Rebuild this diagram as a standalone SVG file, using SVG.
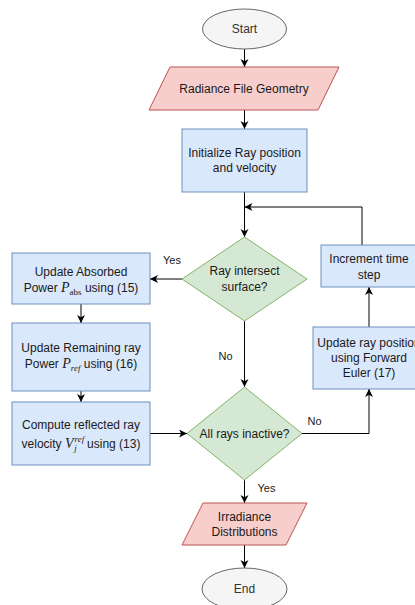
<svg xmlns="http://www.w3.org/2000/svg" width="415" height="605" viewBox="0 0 415 605">
<defs>
<marker id="arr" markerUnits="userSpaceOnUse" markerWidth="10" markerHeight="10" refX="8" refY="4" orient="auto">
<path d="M0,0 L8,4 L0,8 L2.2,4 z" fill="#000"/>
</marker>
<style>
.t{font-family:"Liberation Sans",Arial,sans-serif;font-size:12px;fill:#1a1a1a;text-anchor:middle}
.g{fill:#333333}
.lbl{font-family:"Liberation Sans",Arial,sans-serif;font-size:11px;fill:#1a1a1a;text-anchor:middle}
.m{font-family:"Liberation Serif","Times New Roman",serif;font-style:italic}
.r{font-family:"Liberation Serif","Times New Roman",serif;font-style:normal}
.blue{fill:#dae8fc;stroke:#6c8ebf;stroke-width:1}
.green{fill:#d5e8d4;stroke:#82b366;stroke-width:1}
.red{fill:#f8cecc;stroke:#b85450;stroke-width:1}
.grey{fill:#f5f5f5;stroke:#666666;stroke-width:1}
.c{fill:none;stroke:#000;stroke-width:1;marker-end:url(#arr)}
.cn{fill:none;stroke:#000;stroke-width:1}
</style>
</defs>
<g id="connectors">
<path class="c" d="M244.5,49 V67"/>
<path class="c" d="M244.5,110 V129"/>
<path class="c" d="M244.5,192 V237"/>
<path class="c" d="M244.5,321 V387"/>
<path class="c" d="M244.5,480 V503"/>
<path class="c" d="M244.5,545 V568"/>
<path class="c" d="M182,279 H150"/>
<path class="c" d="M81,304 V323"/>
<path class="c" d="M81,391 V402"/>
<path class="c" d="M150,433.5 H187"/>
<path class="c" d="M302,433.5 H369 V389"/>
<path class="c" d="M369,327 V287"/>
<path class="c" d="M362,245 V207 H244.5"/>
<text class="lbl" x="172" y="264">Yes</text>
<text class="lbl" x="225.5" y="360">No</text>
<text class="lbl" x="314.5" y="425">No</text>
<text class="lbl" x="266.5" y="492">Yes</text>
</g>
<g id="start">
<ellipse class="grey" cx="244.5" cy="29" rx="42" ry="20"/>
<text class="t g" x="244.5" y="33">Start</text>
</g>
<g id="radiance">
<polygon class="red" points="170,67 339,67 318,110 149,110"/>
<text class="t" x="244" y="93">Radiance File Geometry</text>
</g>
<g id="init">
<rect class="blue" x="182" y="129" width="125" height="63"/>
<text class="t" x="244.5" y="157">Initialize Ray position</text>
<text class="t" x="244.5" y="172">and velocity</text>
</g>
<g id="intersect">
<polygon class="green" points="244.5,237 307,279 244.5,321 182,279"/>
<text class="t" x="244.5" y="275">Ray intersect</text>
<text class="t" x="244.5" y="291">surface?</text>
</g>
<g id="absorbed">
<rect class="blue" x="12" y="253" width="138" height="51"/>
<text class="t" x="81" y="276">Update Absorbed</text>
<text class="t" x="81" y="292">Power <tspan class="m" font-size="14">P</tspan><tspan class="r" font-size="9" dy="3">abs</tspan><tspan dy="-3"> using (15)</tspan></text>
</g>
<g id="remaining">
<rect class="blue" x="12" y="323" width="138" height="68"/>
<text class="t" x="81" y="352">Update Remaining ray</text>
<text class="t" x="81" y="368">Power <tspan class="m" font-size="14">P</tspan><tspan class="m" font-size="9" dy="3">ref</tspan><tspan dy="-3"> using (16)</tspan></text>
</g>
<g id="reflected">
<rect class="blue" x="12" y="402" width="138" height="63"/>
<text class="t" x="81" y="429">Compute reflected ray</text>
<text class="t" x="81" y="448">velocity <tspan class="m" font-size="14">V</tspan><tspan class="m" font-size="9" dx="1" dy="-6">ref</tspan><tspan class="m" font-size="9" dx="-10" dy="9">j</tspan><tspan dx="7" dy="-3"> using (13)</tspan></text>
</g>
<g id="inactive">
<polygon class="green" points="244.5,387 302,433.5 244.5,480 187,433.5"/>
<text class="t" x="244.5" y="437.5">All rays inactive?</text>
</g>
<g id="increment">
<rect class="blue" x="321" y="245" width="96" height="42"/>
<text class="t" x="369" y="263">Increment time</text>
<text class="t" x="369" y="279">step</text>
</g>
<g id="euler">
<rect class="blue" x="313" y="327" width="112" height="62"/>
<text class="t" x="369" y="347">Update ray position</text>
<text class="t" x="369" y="362">using Forward</text>
<text class="t" x="369" y="377">Euler (17)</text>
</g>
<g id="irradiance">
<polygon class="red" points="203,503 307,503 286,545 182,545"/>
<text class="t" x="244.5" y="521">Irradiance</text>
<text class="t" x="244.5" y="536">Distributions</text>
</g>
<g id="end">
<ellipse class="grey" cx="244.5" cy="589" rx="42.5" ry="21"/>
<text class="t g" x="244.5" y="593">End</text>
</g>
</svg>
